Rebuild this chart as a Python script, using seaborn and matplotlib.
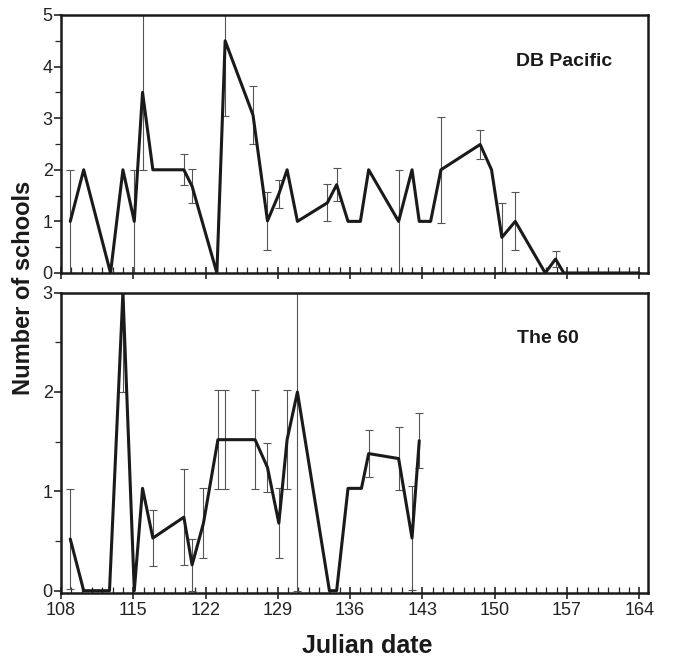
import numpy as np
import pandas as pd
import matplotlib
matplotlib.use('Agg')
import matplotlib.pyplot as plt
import seaborn as sns
from matplotlib.ticker import MultipleLocator

# DB Pacific (oberes Panel)
days_db = [108.9, 110.2, 112.8, 114.0, 115.1, 115.9, 116.9, 119.9, 120.7, 123.1,
           123.9, 126.6, 128.0, 129.1, 129.9, 130.9, 133.8, 134.7, 135.8, 137.0,
           137.8, 140.7, 142.0, 142.7, 143.8, 144.8, 148.6, 149.7, 150.7, 152.0,
           154.9, 155.9, 156.7, 164.0]
vals_db = [1, 2, 0, 2, 1, 3.5, 2, 2, 1.68, 0,
           4.5, 3.06, 1.01, 1.53, 2, 1, 1.36, 1.71, 1, 1,
           2, 1, 2, 1, 1, 2, 2.49, 2, 0.69, 1.0,
           0, 0.27, 0, 0]
err_db = [1, 0, 0, 0, 1, 1.5, 0, 0.3, 0.33, 0,
          1.45, 0.56, 0.56, 0.28, 0, 0, 0.36, 0.32, 0, 0,
          0, 1, 0, 0, 0, 1.03, 0.29, 0, 0.67, 0.56,
          0, 0.16, 0, 0]

# The 60 (unteres Panel)
days_60 = [108.9, 110.2, 112.7, 114.0, 115.1, 115.9, 116.9, 119.9, 120.7, 121.8,
           123.2, 123.9, 126.8, 128.0, 129.1, 129.9, 130.9, 134.0, 134.7, 135.8,
           137.1, 137.8, 140.7, 142.0, 142.7]
vals_60 = [0.52, 0, 0, 3, 0, 1.03, 0.53, 0.74, 0.26, 0.68,
           1.52, 1.52, 1.52, 1.24, 0.68, 1.52, 2, 0, 0, 1.03,
           1.03, 1.38, 1.33, 0.53, 1.51]
err_60 = [0.5, 0, 0, 1, 0, 0, 0.28, 0.48, 0.26, 0.35,
          0.5, 0.5, 0.5, 0.25, 0.35, 0.5, 2, 0, 0, 0,
          0, 0.24, 0.32, 0.52, 0.28]

xticks = list(range(108, 165, 7))

sns.set_style('ticks')
plt.rcParams['font.family'] = ['Liberation Sans', 'DejaVu Sans']

fig = plt.figure(figsize=(6.73, 6.6), dpi=100)
ax1 = fig.add_axes([0.0906, 0.5864, 0.8722, 0.3909])
ax2 = fig.add_axes([0.0906, 0.1011, 0.8722, 0.4555])


def panel(ax, days, vals, errs, ylim, show_xlabels):
    df = pd.DataFrame({'day': days, 'n': vals, 'err': errs})
    e = df[df.err > 0]
    ax.errorbar(e.day, e.n, yerr=e.err, fmt='none', ecolor='#555555',
                elinewidth=0.8, capsize=3, capthick=0.8, zorder=2)
    sns.lineplot(data=df, x='day', y='n', ax=ax, color='#1a1a1a', lw=2.2,
                 estimator=None, sort=False, zorder=3)
    ax.set_xlim(108, 164.85)
    ax.set_ylim(*ylim)
    ax.set_xticks(xticks)
    ax.xaxis.set_minor_locator(MultipleLocator(1))
    ax.yaxis.set_major_locator(MultipleLocator(1))
    ax.yaxis.set_minor_locator(MultipleLocator(0.5))
    ax.tick_params(axis='x', which='major', direction='inout', length=8, width=1.2,
                   labelsize=13, pad=2, labelbottom=show_xlabels, labelcolor='#222222')
    ax.tick_params(axis='x', which='minor', direction='in', length=4, width=0.9)
    ax.tick_params(axis='y', which='major', direction='out', length=5, width=1.2,
                   labelsize=13, pad=1, labelcolor='#222222')
    ax.tick_params(axis='y', which='minor', direction='out', length=4, width=0.9)
    for s in ax.spines.values():
        s.set_linewidth(1.8)
        s.set_color('#1a1a1a')
    ax.set_xlabel('')
    ax.set_ylabel('')
    return ax


panel(ax1, days_db, vals_db, err_db, (0, 5), False)
panel(ax2, days_60, vals_60, err_60, (-0.026, 3), True)

ax1.text(0.94, 0.818, 'DB Pacific', transform=ax1.transAxes, ha='right', va='center',
         fontsize=14, fontweight='bold', color='#1a1a1a')
ax2.text(0.8825, 0.849, 'The 60', transform=ax2.transAxes, ha='right', va='center',
         fontsize=14, fontweight='bold', color='#1a1a1a')

fig.text(24 / 673, 1 - 288 / 660, 'Number of schools', rotation=90, ha='center',
         va='center', fontsize=17, fontweight='bold', color='#1a1a1a')
fig.text(367 / 673, 1 - 646 / 660, 'Julian date', ha='center', va='center',
         fontsize=18, fontweight='bold', color='#1a1a1a')

fig.savefig('out.png', dpi=100)
